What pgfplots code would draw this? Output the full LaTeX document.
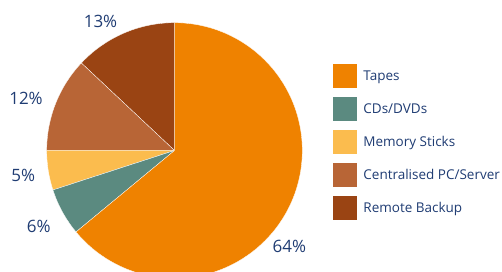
\documentclass[border=0pt]{standalone}
\usepackage{pgfplots}
\pgfplotsset{compat=1.18}
\usepackage{fontspec}
\setmainfont{Open Sans}
\definecolor{tapes}{HTML}{EF8200}
\definecolor{cds}{HTML}{5B8A80}
\definecolor{mem}{HTML}{FBBC4E}
\definecolor{central}{HTML}{B86536}
\definecolor{remote}{HTML}{9A4413}
\definecolor{navy}{HTML}{1F3C73}
\begin{document}
\begin{tikzpicture}
\begin{axis}[
  scale only axis, width=502pt, height=272pt,
  xmin=0, xmax=502, ymin=0, ymax=272,
  hide axis, clip=true,
  reverse legend,
  legend image code/.code={\fill[#1,draw=none] (0pt,-12pt) rectangle (24pt,12pt);},
  legend style={at={(axis cs:332.7,208)}, anchor=north west, draw=none, fill=none,
    inner sep=0pt, row sep=9pt, column sep=6.5pt,
    nodes={inner sep=0pt, text=navy, font=\fontsize{13.5}{16}\selectfont}},
  legend cell align=left,
]
% Percentages (counterclockwise from 12 o'clock): Remote 13, Centralised 12, Memory 5, CDs 6, Tapes 64
\addplot[fill=remote, draw=white, line width=0.3pt, domain=90:136.8, samples=40]
  ({174.5+127.8*cos(x)},{121.5+127.8*sin(x)}) -- (axis cs:174.5,121.5) -- cycle;
\addlegendentry{Remote Backup}
\addplot[fill=central, draw=white, line width=0.3pt, domain=136.8:180, samples=40]
  ({174.5+127.8*cos(x)},{121.5+127.8*sin(x)}) -- (axis cs:174.5,121.5) -- cycle;
\addlegendentry{Centralised PC/Server}
\addplot[fill=mem, draw=white, line width=0.3pt, domain=180:198, samples=20]
  ({174.5+127.8*cos(x)},{121.5+127.8*sin(x)}) -- (axis cs:174.5,121.5) -- cycle;
\addlegendentry{Memory Sticks}
\addplot[fill=cds, draw=white, line width=0.3pt, domain=198:219.6, samples=20]
  ({174.5+127.8*cos(x)},{121.5+127.8*sin(x)}) -- (axis cs:174.5,121.5) -- cycle;
\addlegendentry{CDs/DVDs}
\addplot[fill=tapes, draw=white, line width=0.3pt, domain=219.6:450, samples=150]
  ({174.5+127.8*cos(x)},{121.5+127.8*sin(x)}) -- (axis cs:174.5,121.5) -- cycle;
\addlegendentry{Tapes}
\begin{scope}[every node/.style={inner sep=0pt, text=navy, font=\fontsize{17}{20}\selectfont}]
\node at (axis cs:100.5,251) {13\%};
\node at (axis cs:26,174) {12\%};
\node at (axis cs:23.2,97) {5\%};
\node at (axis cs:38.7,46) {6\%};
\node at (axis cs:289.3,26) {64\%};
\end{scope}
\end{axis}
\pgfresetboundingbox
\useasboundingbox (current axis.south west) rectangle (current axis.north east);
\end{tikzpicture}
\end{document}
